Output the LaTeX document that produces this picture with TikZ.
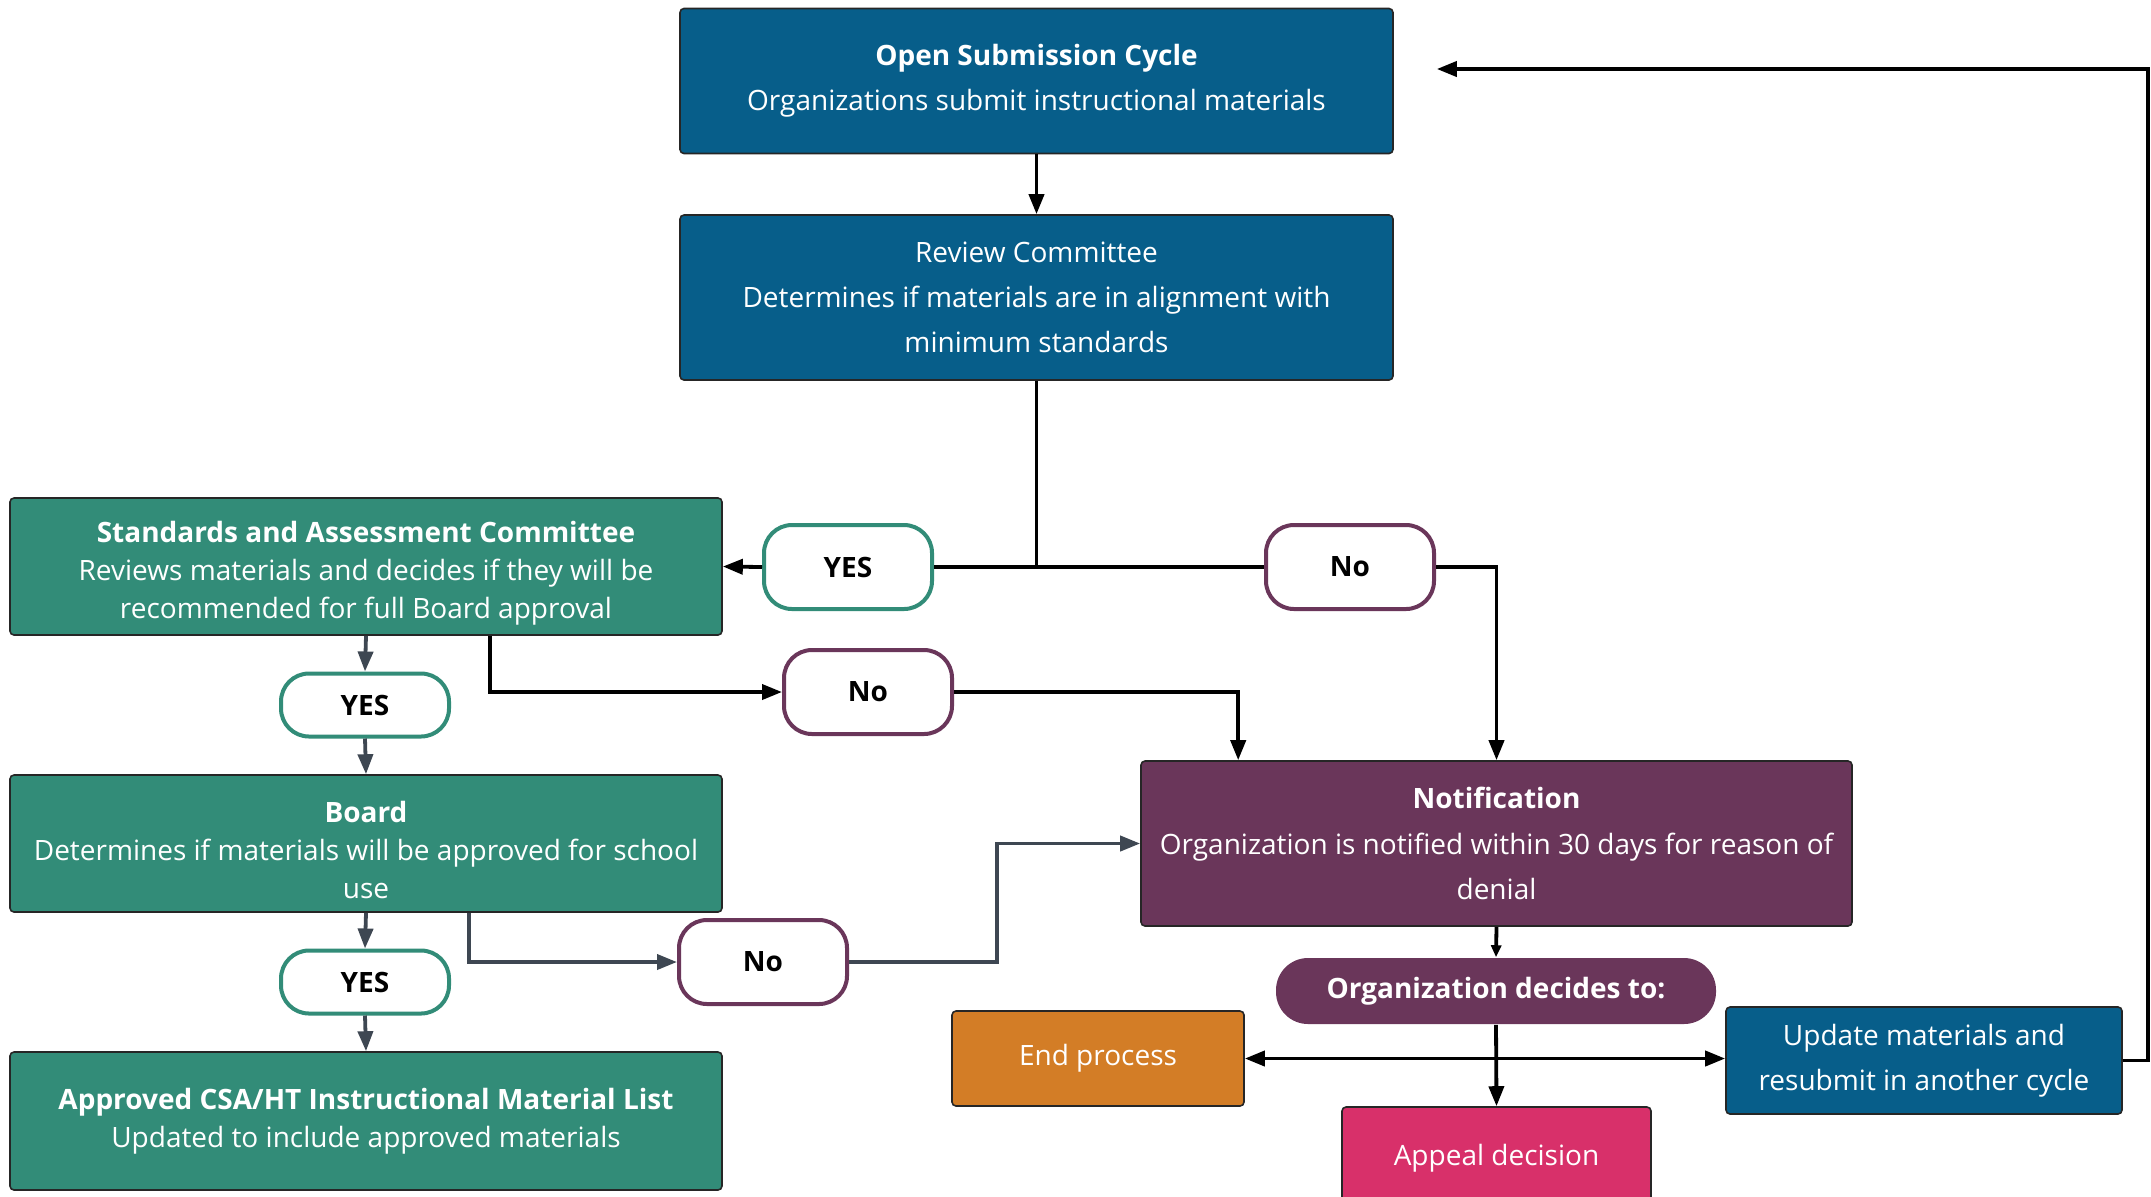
\documentclass[tikz,border=0pt]{standalone}
\usepackage{fontspec}
\setmainfont{Open Sans}
\usetikzlibrary{arrows.meta}
\definecolor{subblue}{HTML}{075E8A}
\definecolor{subteal}{HTML}{328C78}
\definecolor{subpurple}{HTML}{6A365A}
\definecolor{suborange}{HTML}{D37D26}
\definecolor{subpink}{HTML}{D8306A}
\definecolor{linegrey}{HTML}{3E4752}
\begin{document}
\begin{tikzpicture}[x=0.5pt,y=-0.5pt,
  box/.style={draw=black!85,line width=0.8pt,rounded corners=2pt,text=white,align=center,inner sep=0pt,
    font=\fontsize{14}{22.6}\selectfont},
  tealbox/.style={box,fill=subteal,minimum width=356pt,minimum height=68.5pt,font=\fontsize{14}{19}\selectfont},
  pill/.style={draw,fill=white,line width=2pt,rounded corners=14pt,minimum width=84pt,minimum height=42pt,
    font=\fontsize{14}{16}\selectfont\bfseries},
  yespill/.style={pill,draw=subteal},
  nopill/.style={pill,draw=subpurple},
  link/.style={line width=1.9pt},
  arr/.style={link,-{Triangle[length=10pt,width=7.5pt]}},
  garr/.style={arr,draw=linegrey}]
\useasboundingbox (0,0) rectangle (2151,1196);
\node[box,fill=subblue,minimum width=356.5pt,minimum height=72.5pt] (open) at (1036.5,81)
{\textbf{Open Submission Cycle}\\Organizations submit instructional materials};
\node[box,fill=subblue,minimum width=356.5pt,minimum height=82.5pt] (review) at (1036.5,297.5)
{Review Committee\\Determines if materials are in alignment with\\minimum standards};
\node[tealbox] (sac) at (366,566.5)
{\rule{0pt}{17pt}\textbf{Standards and Assessment Committee}\\Reviews materials and decides if they will be\\recommended for full Board approval};
\node[tealbox] (board) at (366,843.5)
{\rule{0pt}{17pt}\textbf{Board}\\Determines if materials will be approved for school\\use};
\node[tealbox,minimum height=69pt] (approved) at (366,1121)
{\textbf{Approved CSA/HT Instructional Material List}\\Updated to include approved materials};
\node[box,fill=subpurple,minimum width=355.5pt,minimum height=82.5pt] (notif) at (1496.5,843.5)
{\textbf{Notification}\\Organization is notified within 30 days for reason of\\denial};
\node[box,fill=subpurple,draw=none,rounded corners=16pt,minimum width=220pt,minimum height=33pt,
  font=\fontsize{14}{16}\selectfont\bfseries] (decide) at (1496,991) {Organization decides to:};
\node[box,fill=suborange,minimum width=146pt,minimum height=47.5pt] (endp) at (1098,1058.5) {End process};
\node[box,fill=subblue,minimum width=198pt,minimum height=53.5pt] (update) at (1924,1060.5)
{Update materials and\\resubmit in another cycle};
\node[box,fill=subpink,minimum width=154.5pt,minimum height=51.5pt] (appeal) at (1496.5,1158.5) {Appeal decision};
% decision labels
\node[yespill] (yes1) at (848,567) {YES};
\node[nopill] (no1) at (1350,567) {No};
\node[yespill,minimum height=31.5pt] (yes2) at (365,705) {YES};
\node[nopill] (no2) at (868,692) {No};
\node[yespill,minimum height=31.5pt] (yes3) at (365,982) {YES};
\node[nopill] (no3) at (763,962) {No};
% connectors
\draw[arr] (open) -- (review);
\draw[link] (review.south) |- (yes1.east);
\draw[link] (review.south |- yes1.east) -- (no1.west);
\draw[arr] (yes1.west) -- (sac.east);
\draw[arr] (no1.east) -| (notif.north);
\draw[garr] (sac.south) -- (yes2.north);
\draw[garr] (yes2.south) -- (board.north);
\draw[arr] ([xshift=62pt]sac.south) |- (no2.west);
\draw[arr] (no2.east) -| ([xshift=49pt]notif.north west);
\draw[garr] (board.south) -- (yes3.north);
\draw[garr] (yes3.south) -- (approved.north);
\draw[garr] ([xshift=51.5pt]board.south) |- (no3.west);
\draw[garr] (no3.east) -- ++(148,0) |- (notif.west);
\draw[link,-{Triangle[length=6pt,width=5pt]}] (notif.south) -- (decide.north);
\draw[arr] (decide.south) -- (appeal.north);
\draw[link,{Triangle[length=10pt,width=7.5pt]}-{Triangle[length=10pt,width=7.5pt]}] (endp.east) -- (endp.east -| update.west);
\draw[arr] (update.east) -- ++(25,0) |- ([xshift=21.5pt,yshift=6pt]open.east);
\end{tikzpicture}
\end{document}
